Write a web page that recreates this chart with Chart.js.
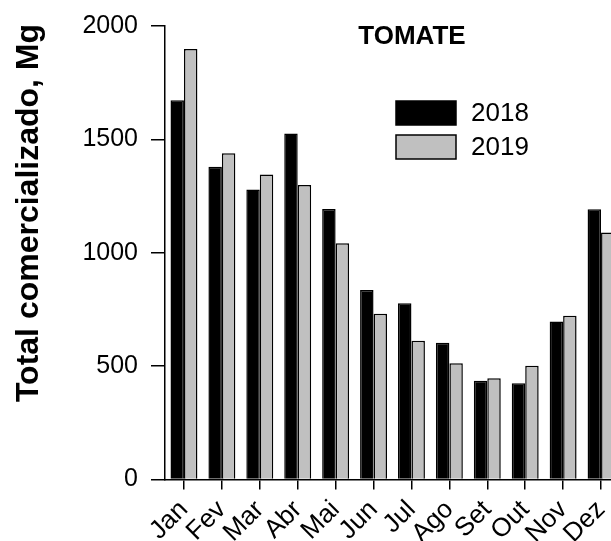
<!DOCTYPE html>
<html>
<head>
<meta charset="utf-8">
<script src="https://cdn.jsdelivr.net/npm/chart.js@4/dist/chart.umd.min.js"></script>
<style>
  html, body { margin: 0; padding: 0; overflow: hidden; background: #fff; }
  #wrap { position: relative; width: 620px; height: 541px; }
</style>
</head>
<body>
<div id="wrap"><canvas id="chart"></canvas></div>
<script>
// Monthly tomato volume sold (Mg)
const months = ['Jan', 'Fev', 'Mar', 'Abr', 'Mai', 'Jun', 'Jul', 'Ago', 'Set', 'Out', 'Nov', 'Dez'];
const sales2018 = [1672, 1379, 1279, 1526, 1193, 836, 777, 603, 435, 425, 697, 1192];
const sales2019 = [1899, 1439, 1345, 1299, 1042, 731, 612, 513, 447, 502, 722, 1089];
const seriesNames = ['2018', '2019'];
const yTicks = [0, 500, 1000, 1500, 2000];
const chartTitle = 'TOMATE';
const yAxisTitle = 'Total comercializado, Mg';

const FONT = "'Liberation Sans', Arial, Helvetica, sans-serif";

// Title, axis title and legend drawn on top of the plot
const annotations = {
  id: 'annotations',
  afterDraw(chart) {
    const ctx = chart.ctx;
    ctx.save();
    ctx.fillStyle = '#000';

    // chart title
    ctx.font = `bold 26px ${FONT}`;
    ctx.textAlign = 'center';
    ctx.textBaseline = 'alphabetic';
    ctx.fillText(chartTitle, 412, 44);

    // y axis title
    ctx.save();
    ctx.translate(38, 213);
    ctx.rotate(-Math.PI / 2);
    ctx.font = `bold 32px ${FONT}`;
    ctx.textAlign = 'center';
    ctx.textBaseline = 'alphabetic';
    ctx.fillText(yAxisTitle, 0, 0);
    ctx.restore();

    // legend
    const boxX = 396, boxW = 60, boxH = 24, rows = [101, 135];
    chart.data.datasets.forEach((ds, i) => {
      const y = rows[i];
      ctx.fillStyle = ds.backgroundColor;
      ctx.fillRect(boxX, y, boxW, boxH);
      ctx.strokeStyle = '#000';
      ctx.lineWidth = 1.5;
      ctx.strokeRect(boxX, y, boxW, boxH);
      ctx.fillStyle = '#000';
      ctx.font = `26px ${FONT}`;
      ctx.textAlign = 'left';
      ctx.textBaseline = 'middle';
      ctx.fillText(ds.label, 471, y + boxH / 2 + 1);
    });
    ctx.restore();
  }
};

new Chart(document.getElementById('chart'), {
  type: 'bar',
  data: {
    labels: months,
    datasets: [
      { label: seriesNames[0], data: sales2018, backgroundColor: '#000000', borderColor: '#000', borderWidth: 1.5 },
      { label: seriesNames[1], data: sales2019, backgroundColor: '#c0c0c0', borderColor: '#000', borderWidth: 1.5 }
    ]
  },
  options: {
    responsive: true,
    maintainAspectRatio: false,
    devicePixelRatio: 1,
    animation: false,
    layout: { padding: { top: 26, left: 0, right: 0, bottom: 0 } },
    datasets: { bar: { categoryPercentage: 0.71, barPercentage: 1.0 } },
    plugins: {
      legend: { display: false },
      title: { display: false },
      tooltip: { enabled: false }
    },
    scales: {
      x: {
        offset: true,
        grid: { drawOnChartArea: false, drawTicks: true, tickLength: 10, offset: false, color: '#000', lineWidth: 1.5 },
        border: { display: true, color: '#000', width: 1.5 },
        ticks: {
          color: '#000', font: { family: FONT, size: 26 },
          minRotation: 45, maxRotation: 45, autoSkip: false, padding: 5
        },
        afterFit(scale) {
          scale.height = 61.5;
          scale.paddingLeft = 0;
          scale.paddingRight = 0;
        }
      },
      y: {
        min: 0,
        max: 2000,
        afterBuildTicks(scale) { scale.ticks = yTicks.map(v => ({ value: v })); },
        grid: { drawOnChartArea: false, drawTicks: true, tickLength: 14, color: '#000', lineWidth: 1.5 },
        border: { display: true, color: '#000', width: 1.5 },
        ticks: {
          color: '#000', font: { family: FONT, size: 25 }, padding: 13,
          callback: v => String(v)
        },
        afterFit(scale) {
          scale.width = 165;
          scale.paddingTop = 0;
          scale.paddingBottom = 0;
        }
      }
    }
  },
  plugins: [annotations]
});
</script>
</body>
</html>
